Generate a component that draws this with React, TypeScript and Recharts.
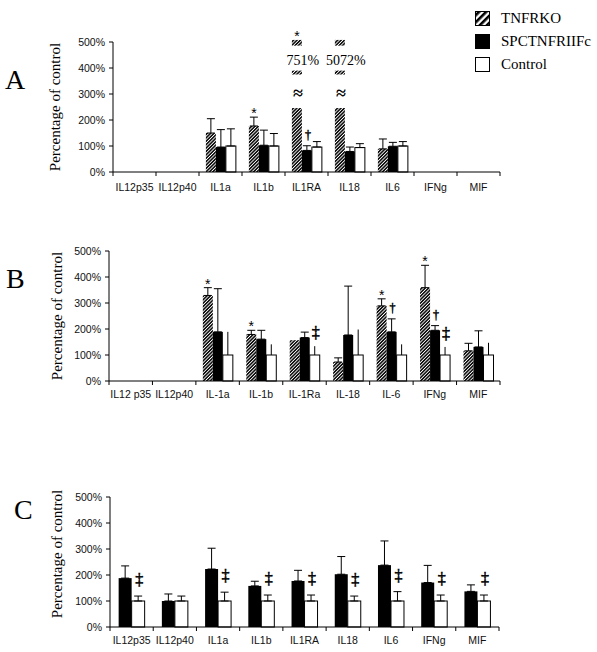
import React from 'react';
import { BarChart, Bar, XAxis, YAxis, ErrorBar, Legend, Label } from 'recharts';

// ---------------- data ----------------
const categoriesA = ['IL12p35', 'IL12p40', 'IL1a', 'IL1b', 'IL1RA', 'IL18', 'IL6', 'IFNg', 'MIF'];
const tnfrkoA = [null, null, 150, 177, 751, 5072, 89, null, null];
const tnfrkoErrA = [null, null, 55, 34, null, null, 38, null, null];
const tnfrkoMarkA = ['', '', '', '*', '*', '', '', '', ''];
const spcA = [null, null, 96, 103, 83, 79, 99, null, null];
const spcErrA = [null, null, 67, 58, 18, 17, 15, null, null];
const spcMarkA = ['', '', '', '', '†', '', '', '', ''];
const controlA = [null, null, 100, 100, 96, 94, 100, null, null];
const controlErrA = [null, null, 66, 48, 21, 15, 17, null, null];
const controlMarkA = ['', '', '', '', '', '', '', '', ''];

const categoriesB = ['IL12 p35', 'IL12p40', 'IL-1a', 'IL-1b', 'IL-1Ra', 'IL-18', 'IL-6', 'IFNg', 'MIF'];
const tnfrkoB = [null, null, 329, 179, 157, 73, 289, 359, 116];
const tnfrkoErrB = [null, null, 30, 16, null, 16, 27, 86, 29];
const tnfrkoMarkB = ['', '', '*', '*', '', '', '*', '*', ''];
const spcB = [null, null, 189, 161, 167, 177, 189, 195, 131];
const spcErrB = [null, null, 166, 34, 21, 188, 50, 18, 62];
const spcMarkB = ['', '', '', '', '', '', '†', '†', ''];
const controlB = [null, null, 100, 100, 100, 100, 100, 100, 100];
const controlErrB = [null, null, 89, 41, 34, 98, 41, 31, 47];
const controlMarkB = ['', '', '', '', '‡', '', '', '‡', ''];

const categoriesC = ['IL12p35', 'IL12p40', 'IL1a', 'IL1b', 'IL1RA', 'IL18', 'IL6', 'IFNg', 'MIF'];
const spcC = [188, 100, 223, 158, 177, 203, 238, 171, 137];
const spcErrC = [47, 27, 80, 18, 41, 68, 93, 66, 25];
const spcMarkC = ['', '', '', '', '', '', '', '', ''];
const controlC = [100, 100, 100, 100, 100, 100, 100, 100, 100];
const controlErrC = [19, 19, 34, 23, 23, 19, 36, 23, 23];
const controlMarkC = ['‡', '', '‡', '‡', '‡', '‡', '‡', '‡', '‡'];

const yTicks = [0, 100, 200, 300, 400, 500];
const legendLabels = ['TNFRKO', 'SPCTNFRIIFc', 'Control'];
const yTitle = 'Percentage of control';

// ---------------- helpers ----------------
const SERIF = '"Liberation Serif", "Times New Roman", Times, serif';
const SANS = '"Liberation Sans", Arial, Helvetica, sans-serif';
const AXIS_MAX = 500;
const BREAK_AT = 246;
const BREAK_SEGMENTS = [[375, 390], [486, 508]];
const BREAK_WAVE = 299;
const BREAK_TEXT = 430;

type Num = number | null;

function buildRows(
  names: string[],
  tnf: Num[] | null, tnfErr: Num[] | null, tnfMark: string[] | null,
  spc: Num[], spcErr: Num[], spcMark: string[],
  ctl: Num[], ctlErr: Num[], ctlMark: string[]
) {
  return names.map((name, i) => ({
    name,
    tnf: tnf ? tnf[i] : null,
    tnfErr: tnf && tnfErr && tnfErr[i] != null ? [0, tnfErr[i]] : null,
    tnfMark: tnfMark ? tnfMark[i] : '',
    spc: spc[i],
    spcErr: spcErr[i] != null ? [0, spcErr[i]] : null,
    spcMark: spcMark[i],
    ctl: ctl[i],
    ctlErr: ctlErr[i] != null ? [0, ctlErr[i]] : null,
    ctlMark: ctlMark[i],
  }));
}

const rowsA = buildRows(categoriesA, tnfrkoA, tnfrkoErrA, tnfrkoMarkA, spcA, spcErrA, spcMarkA, controlA, controlErrA, controlMarkA);
const rowsB = buildRows(categoriesB, tnfrkoB, tnfrkoErrB, tnfrkoMarkB, spcB, spcErrB, spcMarkB, controlB, controlErrB, controlMarkB);
const rowsC = buildRows(categoriesC, null, null, null, spcC, spcErrC, spcMarkC, controlC, controlErrC, controlMarkC);

// values above the axis maximum are drawn as a broken bar
const shownValue = (v: number) => (v > AXIS_MAX ? BREAK_AT : v);
const tnfValue = (d: any) => (d.tnf == null ? null : shownValue(d.tnf));

function renderMark(mark: string, cx: number, top: number, ddOffset: number) {
  if (!mark) return null;
  if (mark === '*') {
    return (
      <text x={cx} y={top - 7 + 8} textAnchor="middle" fontFamily={SANS} fontSize={14} fill="#000">*</text>
    );
  }
  if (mark === '†') {
    return (
      <text x={cx + 1} y={top - 10 + 3.5} textAnchor="middle" fontFamily={SERIF} fontSize={12}
        fill="#000" stroke="#000" strokeWidth={0.45}>†</text>
    );
  }
  return (
    <text x={cx + 1} y={top - ddOffset + 4} textAnchor="middle" fontFamily={SERIF} fontSize={16}
      fill="#000" stroke="#000" strokeWidth={0.5}>{mark}</text>
  );
}

function barShape(key: 'tnf' | 'spc' | 'ctl', fill: string, stroke: string, ddOffset: number) {
  return (props: any) => {
    const { x, y, width, height, payload } = props;
    const raw = payload ? payload[key] : null;
    if (raw == null || !(height > 0)) return <g />;
    const shown = shownValue(raw);
    const k = height / shown;
    const base = y + height;
    const cx = x + width / 2;
    const broken = raw > AXIS_MAX;
    const err = payload[key + 'Err'];
    const top = broken ? base - BREAK_SEGMENTS[1][1] * k : y - (err ? err[1] : 0) * k;
    return (
      <g>
        <rect x={x} y={y} width={width} height={height} fill={fill}
          stroke={stroke} strokeWidth={stroke === 'none' ? 0 : 1} />
        {broken && BREAK_SEGMENTS.map(([lo, hi], j) => (
          <rect key={j} x={x} y={base - hi * k} width={width} height={(hi - lo) * k} fill={fill} />
        ))}
        {broken && (
          <text x={cx + 1} y={base - BREAK_WAVE * k + 4.5} textAnchor="middle" fontFamily={SERIF} fontSize={18}
            fontWeight="bold" fill="#000">≈</text>
        )}
        {broken && (
          <text x={cx + 6} y={base - BREAK_TEXT * k + 4.5} textAnchor="middle" fontFamily={SERIF} fontSize={14} fill="#000">{`${raw}%`}</text>
        )}
        {renderMark(payload[key + 'Mark'], cx, top, ddOffset)}
      </g>
    );
  };
}

function makeXTick(band: number, labelDy: number, count: number) {
  return (props: any) => {
    const { x, y, payload, index } = props;
    const axisY = y - 4;
    const half = band / 2;
    return (
      <g>
        <line x1={x - half} y1={axisY} x2={x - half} y2={axisY + 4} stroke="#000" strokeWidth={1} />
        {index === count - 1 && (
          <line x1={x + half} y1={axisY} x2={x + half} y2={axisY + 4} stroke="#000" strokeWidth={1} />
        )}
        <text x={x} y={axisY + labelDy} textAnchor="middle" fontFamily={SANS} fontSize={10.5} fill="#111">
          {payload.value}
        </text>
      </g>
    );
  };
}

function panelDecor(letter: string, lx: number, lBase: number, tx: number, ty: number, tSize: number) {
  return () => (
    <g>
      <text x={lx} y={lBase} fontFamily={SERIF} fontSize={28} fill="#000">{letter}</text>
      <text x={tx} y={ty} transform={`rotate(-90 ${tx} ${ty})`} textAnchor="middle"
        dominantBaseline="central" fontFamily={SERIF} fontSize={tSize} fill="#000">{yTitle}</text>
    </g>
  );
}

function Hatch({ id }: { id: string }) {
  return (
    <defs>
      <pattern id={id} width={2.4} height={2.4} patternUnits="userSpaceOnUse" patternTransform="rotate(45)">
        <rect x={0} y={0} width={2.4} height={2.4} fill="#fff" />
        <rect x={0} y={0} width={1.6} height={2.4} fill="#111" />
      </pattern>
    </defs>
  );
}

function LegendBox() {
  const fills = ['url(#legendHatch)', '#000', '#fff'];
  return (
    <svg width={127} height={75} style={{ display: 'block' }}>
      <defs>
        <pattern id="legendHatch" width={5} height={5} patternUnits="userSpaceOnUse" patternTransform="rotate(45)">
          <rect x={0} y={0} width={5} height={5} fill="#fff" />
          <rect x={0} y={0} width={2.6} height={5} fill="#000" />
        </pattern>
      </defs>
      {legendLabels.map((lab, i) => (
        <g key={lab}>
          <rect x={5.5} y={6.5 + i * 23} width={14} height={14} fill={fills[i]} stroke="#000" strokeWidth={1} />
          <text x={31} y={18 + i * 23} fontFamily={SERIF} fontSize={15} fill="#000">{lab}</text>
        </g>
      ))}
    </svg>
  );
}

const yAxisCommon = {
  type: 'number' as const,
  domain: [0, AXIS_MAX] as [number, number],
  ticks: yTicks,
  interval: 0 as const,
  width: 50,
  tickSize: 4,
  tickMargin: 4,
  tickFormatter: (v: number) => `${v}%`,
  axisLine: { stroke: '#000' },
  tickLine: { stroke: '#000' },
  tick: { fontSize: 10.5, fontFamily: SANS, fill: '#111' },
};

export default function App() {
  return (
    <div style={{ position: 'absolute', left: 0, top: 0, width: 597, height: 652, background: '#fff', overflow: 'hidden' }}>
      {/* Panel A */}
      <div style={{ position: 'absolute', left: 0, top: 0 }}>
        <BarChart width={597} height={200} data={rowsA} margin={{ top: 42, right: 97, bottom: 8, left: 63 }}
          barCategoryGap="16%" barGap={0}>
          <Hatch id="hatchA" />
          <XAxis dataKey="name" interval={0} tickLine={false} tickSize={4} tickMargin={0} height={20}
            axisLine={{ stroke: '#000' }} tick={makeXTick(387 / 9, 19, 9)} />
          <YAxis {...yAxisCommon}>
            <Label content={panelDecor('A', 5, 89, 55, 107, 15)} />
          </YAxis>
          <Legend layout="vertical" align="center" verticalAlign="middle" content={() => <LegendBox />}
            wrapperStyle={{ left: 470, top: 5, width: 127, height: 75 }} />
          <Bar dataKey={tnfValue} name="TNFRKO" isAnimationActive={false} fill="url(#hatchA)"
            shape={barShape('tnf', 'url(#hatchA)', 'none', 12)}>
            <ErrorBar dataKey="tnfErr" direction="y" width={4} stroke="#000" strokeWidth={1} isAnimationActive={false} />
          </Bar>
          <Bar dataKey="spc" name="SPCTNFRIIFc" isAnimationActive={false} fill="#000"
            shape={barShape('spc', '#000', 'none', 12)}>
            <ErrorBar dataKey="spcErr" direction="y" width={4} stroke="#000" strokeWidth={1} isAnimationActive={false} />
          </Bar>
          <Bar dataKey="ctl" name="Control" isAnimationActive={false} fill="#fff"
            shape={barShape('ctl', '#fff', '#000', 12)}>
            <ErrorBar dataKey="ctlErr" direction="y" width={4} stroke="#000" strokeWidth={1} isAnimationActive={false} />
          </Bar>
        </BarChart>
      </div>

      {/* Panel B */}
      <div style={{ position: 'absolute', left: 0, top: 220 }}>
        <BarChart width={597} height={185} data={rowsB} margin={{ top: 31, right: 97, bottom: 4, left: 59 }}
          barCategoryGap="16%" barGap={0}>
          <Hatch id="hatchB" />
          <XAxis dataKey="name" interval={0} tickLine={false} tickSize={4} tickMargin={0} height={20}
            axisLine={{ stroke: '#000' }} tick={makeXTick(391 / 9, 17, 9)} />
          <YAxis {...yAxisCommon}>
            <Label content={panelDecor('B', 6, 68, 56.5, 96, 15)} />
          </YAxis>
          <Bar dataKey={tnfValue} name="TNFRKO" isAnimationActive={false} fill="url(#hatchB)"
            shape={barShape('tnf', 'url(#hatchB)', 'none', 12)}>
            <ErrorBar dataKey="tnfErr" direction="y" width={4} stroke="#000" strokeWidth={1} isAnimationActive={false} />
          </Bar>
          <Bar dataKey="spc" name="SPCTNFRIIFc" isAnimationActive={false} fill="#000"
            shape={barShape('spc', '#000', 'none', 12)}>
            <ErrorBar dataKey="spcErr" direction="y" width={4} stroke="#000" strokeWidth={1} isAnimationActive={false} />
          </Bar>
          <Bar dataKey="ctl" name="Control" isAnimationActive={false} fill="#fff"
            shape={barShape('ctl', '#fff', '#000', 12)}>
            <ErrorBar dataKey="ctlErr" direction="y" width={0} stroke="#000" strokeWidth={1} isAnimationActive={false} />
          </Bar>
        </BarChart>
      </div>

      {/* Panel C */}
      <div style={{ position: 'absolute', left: 0, top: 470 }}>
        <BarChart width={597} height={182} data={rowsC} margin={{ top: 27, right: 98, bottom: 5, left: 60 }}
          barCategoryGap="20%" barGap={0}>
          <XAxis dataKey="name" interval={0} tickLine={false} tickSize={4} tickMargin={0} height={20}
            axisLine={{ stroke: '#000' }} tick={makeXTick(389 / 9, 17, 9)} />
          <YAxis {...yAxisCommon}>
            <Label content={panelDecor('C', 14, 48.5, 57, 84, 15)} />
          </YAxis>
          <Bar dataKey="spc" name="SPCTNFRIIFc" isAnimationActive={false} fill="#000"
            shape={barShape('spc', '#000', 'none', 15)}>
            <ErrorBar dataKey="spcErr" direction="y" width={4} stroke="#000" strokeWidth={1} isAnimationActive={false} />
          </Bar>
          <Bar dataKey="ctl" name="Control" isAnimationActive={false} fill="#fff"
            shape={barShape('ctl', '#fff', '#000', 15)}>
            <ErrorBar dataKey="ctlErr" direction="y" width={4} stroke="#000" strokeWidth={1} isAnimationActive={false} />
          </Bar>
        </BarChart>
      </div>
    </div>
  );
}
